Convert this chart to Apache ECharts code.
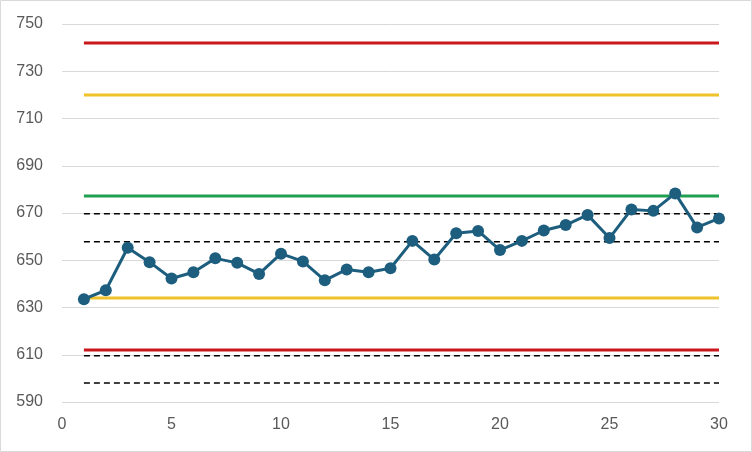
<!DOCTYPE html>
<html><head><meta charset="utf-8">
<script src="https://cdn.jsdelivr.net/npm/echarts@6/dist/echarts.min.js"></script>
<style>html,body{margin:0;padding:0;background:#fff}#c{width:752px;height:452px}</style>
</head><body><div id="c"></div>
<script>
const samples = [1,2,3,4,5,6,7,8,9,10,11,12,13,14,15,16,17,18,19,20,21,22,23,24,25,26,27,28,29,30];
const values = [633.5,637.3,655.3,649.2,642.3,644.9,650.8,648.9,644.2,652.8,649.5,641.5,646.1,644.9,646.6,658.2,650.3,661.4,662.4,654.3,658.2,662.6,664.9,669.2,659.4,671.5,670.9,678.3,663.9,667.7];
const redLimits = [742, 612];
const yellowLimits = [720, 634];
const greenLimits = [677.2];
const dashedLimits = [669.7, 657.8, 609.6, 598];
const lineStart = 1, lineEnd = 30;

const chart = echarts.init(document.getElementById('c'));
function hline(v, color, width, type, z) {
  return {type:'line', data:[[lineStart, v],[lineEnd, v]], symbol:'none', silent:true, z:z,
    lineStyle:{color:color, width:width, type:type}};
}
const series = [];
dashedLimits.forEach(v => series.push(hline(v, '#000000', 1.5, [6,4], 2)));
redLimits.forEach(v => series.push(hline(v, '#C8181C', 3, 'solid', 3)));
yellowLimits.forEach(v => series.push(hline(v, '#EFC12A', 3, 'solid', 3)));
greenLimits.forEach(v => series.push(hline(v, '#1FA050', 3, 'solid', 3)));
series.push({type:'line', data: samples.map((s,i)=>[s, values[i]]), symbol:'circle', symbolSize:12, z:5,
  lineStyle:{color:'#1D5E7E', width:3}, itemStyle:{color:'#1D5E7E'}});

chart.setOption({
  animation:false,
  grid:{left:62, right:33, top:24, bottom:50},
  graphic:[{type:'rect', shape:{x:0.5,y:0.5,width:751,height:451}, style:{fill:'none', stroke:'#d9d9d9', lineWidth:1}}],
  xAxis:{type:'value', min:0, max:30, interval:5, splitLine:{show:false},
    axisLine:{show:false}, axisTick:{show:false},
    axisLabel:{color:'#595959', fontSize:16, fontFamily:'Liberation Sans', margin:15}},
  yAxis:{type:'value', min:590, max:750, interval:20,
    splitLine:{lineStyle:{color:'#d9d9d9', width:1}},
    axisLine:{show:false}, axisTick:{show:false},
    axisLabel:{color:'#595959', fontSize:16, fontFamily:'Liberation Sans', margin:19}},
  series: series
});
</script></body></html>
